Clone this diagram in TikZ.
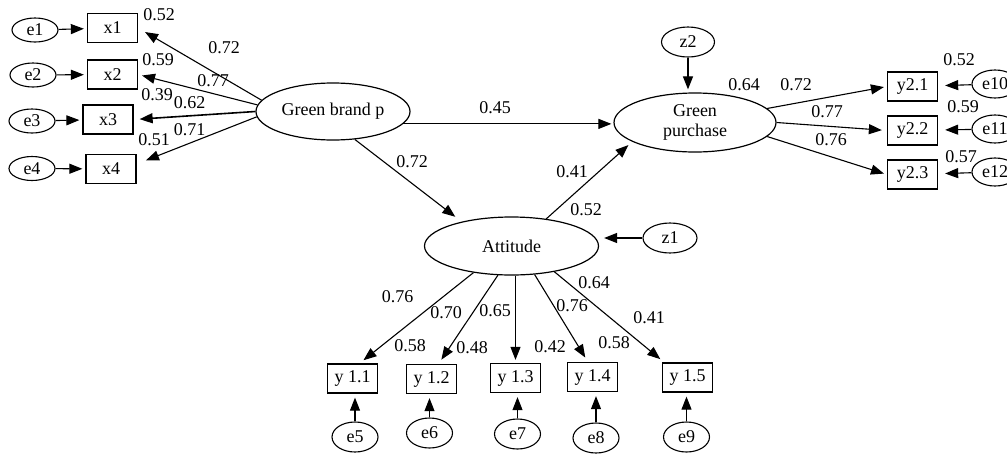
\documentclass[tikz,border=0pt]{standalone}
\usepackage{fontspec}
\setmainfont{Liberation Serif}
\usetikzlibrary{arrows.meta, shapes.geometric}

\tikzset{
    latent/.style={draw, ellipse, line width=1.2pt, inner sep=0pt, align=center},
    errterm/.style={draw, ellipse, line width=1.1pt, inner sep=0pt, minimum width=46pt, minimum height=#1},
    errterm/.default=28pt,
    obsbox/.style={draw, rectangle, line width=1.3pt, inner sep=0pt, minimum width=50pt, minimum height=29pt},
    arr/.style={-{Triangle[length=13pt,width=10pt]}, line width=1.1pt},
    coef/.style={inner sep=0pt}
}

\begin{document}
\begin{tikzpicture}[x=1pt, y=-1pt, font=\fontsize{18}{20}\selectfont]
            % the frame
            \useasboundingbox (0,0) rectangle (1007,453);
            \clip (0,0) rectangle (1007,453);

            % latent variables
            \node[latent, minimum width=154pt, minimum height=57pt] (gbp) at (333,111.5) {Green brand p};
            \node[latent, minimum width=162pt, minimum height=59pt] (gp) at (695,122.5) {Green\\purchase};
            \node[latent, minimum width=174pt, minimum height=58pt] (att) at (511.5,246) {Attitude};
            \node[errterm=30pt, minimum width=53pt] (z2) at (688,42) {z2};
            \node[errterm=30pt, minimum width=54pt] (z1) at (670,238) {z1};

            % green brand p block
            \node[obsbox] (x1) at (112.5,28) {x1};
            \node[obsbox] (x2) at (112.5,74.5) {x2};
            \node[obsbox] (x3) at (108,119.5) {x3};
            \node[obsbox] (x4) at (111,169) {x4};
            \node[errterm=24pt] (e1) at (35,30) {e1};
            \node[errterm=24pt] (e2) at (33,75) {e2};
            \node[errterm=24pt] (e3) at (32,121) {e3};
            \node[errterm=24pt] (e4) at (32,168.5) {e4};
            \foreach \i in {1,...,4} {
                \draw[arr, shorten >=3pt] (e\i) -- (x\i);
            };

            % green purchase block
            \node[obsbox] (y21) at (912.5,86.5) {y2.1};
            \node[obsbox] (y22) at (912.5,130.5) {y2.2};
            \node[obsbox] (y23) at (912.5,174.5) {y2.3};
            \node[errterm] (e10) at (995,84) {e10};
            \node[errterm] (e11) at (995,129) {e11};
            \node[errterm] (e12) at (995,172) {e12};
            \draw[arr, shorten >=7pt] (e10) -- (y21);
            \draw[arr, shorten >=7pt] (e11) -- (y22);
            \draw[arr, shorten >=7pt] (e12) -- (y23);

            % attitude block
            \foreach \i/\xx/\yy/\ex/\ey [count=\k from 5] in {11/352.5/378.5/355/437, 12/431.5/379/429.5/433,
                    13/515.5/378/517.5/434, 14/592.5/377/596/438, 15/687.5/377.5/686.5/437} {
                \node[obsbox] (y\i) at (\xx,\yy) {y 1.\the\numexpr\i-10\relax};
                \node[errterm=30pt] (e\k) at (\ex,\ey) {e\k};
                \draw[arr, shorten >=4pt] (e\k) -- (e\k |- y\i.south);
            };

            % arrows
            \draw[arr, shorten >=8pt] (gbp.171) -- (x1.east);
            \draw[arr, shorten >=4pt] (gbp.175) -- (x2.east);
            \draw[arr, line width=1.6pt, shorten >=6pt] (gbp.west) -- (x3.east);
            \draw[arr, shorten >=10pt] (gbp.184) -- (x4.11);

            \draw[arr, shorten >=2pt] (gbp.-10) -- (gbp.-10 -| gp.west);
            \draw[arr, shorten >=8pt] (gbp.-52) -- (att.154);
            \draw[arr, shorten >=5pt] (att.38) -- (gp.197);
            \draw[arr, shorten >=3pt] (z2.south) -- (z2.south |- gp.north);
            \draw[arr, shorten >=5pt] (z1.west) -- (z1.west -| att.east);

            \draw[arr, shorten >=3pt] (gp.11) -- (y21.west);
            \draw[arr, shorten >=5pt] (gp.east) -- (y22.west);
            \draw[arr, shorten >=3pt] (gp.-11) -- (y23.west);

            \draw[arr, shorten >=5pt] (att.215) -- (y11.65);
            \draw[arr, shorten >=5pt] (att.245) -- (y12.65);
            \draw[arr, shorten >=3pt] (y13 |- att.south) -- (y13.north);
            \draw[arr, shorten >=5pt] (att.-51) -- (y14.107);
            \draw[arr, shorten >=5pt] (att.-31) -- (y15.147);

            % estimates
            \foreach \xx/\yy/\val [count=\i] in {159/15/0.52, 224/48/0.72, 158/60/0.59, 213/81/0.77,
                    157/95/0.39, 189.5/103/0.62, 189.5/130/0.71, 154/140/0.51,
                    495/108/0.45, 412/162/0.72, 572/172/0.41, 586/210/0.52,
                    744/85/0.64, 796/85/0.72, 827/112/0.77, 831/140/0.76,
                    959/60/0.52, 963/107/0.59, 961/157/0.57,
                    397.5/297/0.76, 446/313/0.70, 410/346/0.58, 472/348/0.48, 495/311/0.65,
                    572/306/0.76, 594/283/0.64, 649/318/0.41, 550/347/0.42, 614/343/0.58} {
                \node[coef] (est\i) at (\xx,\yy) {\val};
            };

        \end{tikzpicture}
\end{document}
